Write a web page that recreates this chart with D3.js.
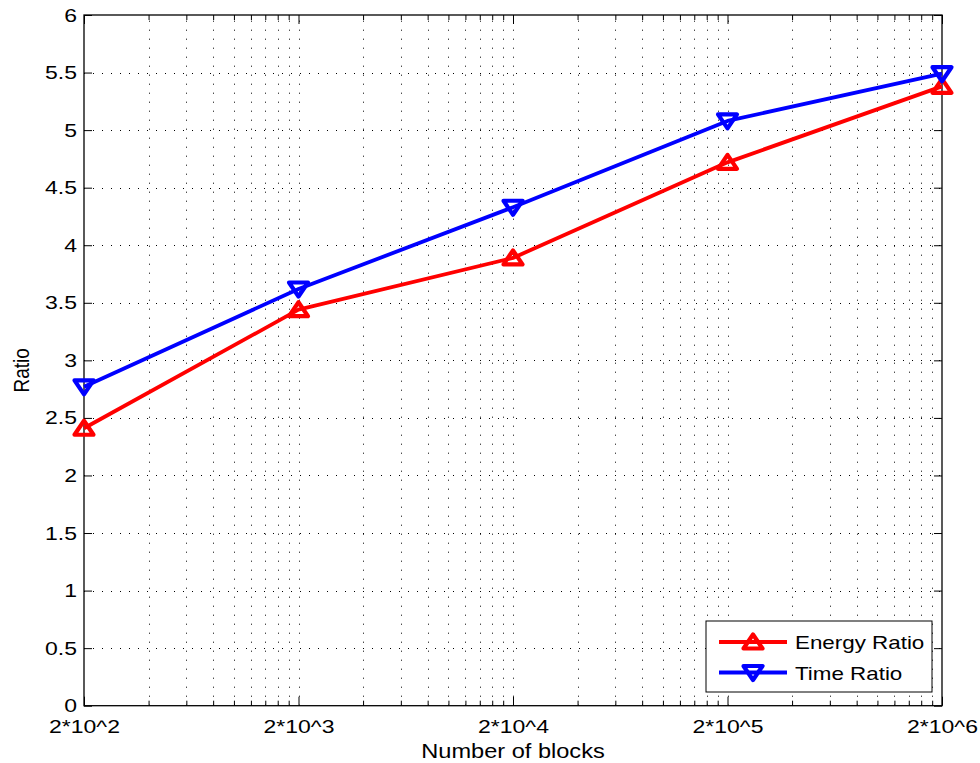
<!DOCTYPE html>
<html>
<head>
<meta charset="utf-8">
<script src="https://cdn.jsdelivr.net/npm/d3@7"></script>
<style>
  body { margin: 0; background: #fff; }
  svg { display: block; font-family: "Liberation Sans", Arial, Helvetica, sans-serif; }
  .axis path, .axis line { stroke: #000; }
  .axis text { fill: #000; font-size: 19px; }
</style>
</head>
<body>
<svg id="chart" width="980" height="763"></svg>
<script>
// Number of blocks (x) and the two measured ratios
const blocks = [2e2, 2e3, 2e4, 2e5, 2e6];
const blockLabels = ["2*10^2", "2*10^3", "2*10^4", "2*10^5", "2*10^6"];
const energyRatio = [2.41, 3.44, 3.89, 4.72, 5.38];
const timeRatio = [2.77, 3.62, 4.33, 5.08, 5.49];
const yTicks = [0, 0.5, 1, 1.5, 2, 2.5, 3, 3.5, 4, 4.5, 5, 5.5, 6];
const seriesNames = ["Energy Ratio", "Time Ratio"];
const seriesColors = ["#ff0000", "#0000ff"];

const svg = d3.select("#chart");
const plotL = 84, plotR = 942, plotT = 15, plotB = 705.7;
const stretch = 1.21;   // wide lettering

const x = d3.scaleLog().domain([2e2, 2e6]).range([plotL, plotR]);
const y = d3.scaleLinear().domain([0, 6]).range([plotB, plotT]);

// minor positions: 2*10^n * k, k = 2..9
const minors = [];
blocks.slice(0, -1).forEach(b => { for (let k = 2; k <= 9; k++) minors.push(b * k); });

// dotted grid
const grid = svg.append("g").attr("stroke", "#000").attr("stroke-width", 1)
  .attr("stroke-dasharray", "1,8").attr("fill", "none");
grid.selectAll("line.v").data(minors.concat(blocks.slice(1, -1))).join("line")
  .attr("x1", d => Math.round(x(d)) + 0.5).attr("x2", d => Math.round(x(d)) + 0.5)
  .attr("y1", plotB).attr("y2", plotT);
grid.selectAll("line.h").data(yTicks.slice(1, -1)).join("line")
  .attr("y1", d => Math.round(y(d)) + 0.5).attr("y2", d => Math.round(y(d)) + 0.5)
  .attr("x1", plotL).attr("x2", plotR);

// axes with inward ticks
svg.append("g").attr("class", "axis").attr("transform", `translate(0,${plotB})`)
  .call(d3.axisBottom(x).tickValues(blocks).tickFormat((d, i) => blockLabels[i])
    .tickSizeInner(-9).tickSizeOuter(0).tickPadding(14))
  .call(g => g.select(".domain").remove())
  .call(g => g.selectAll("text").attr("transform", `scale(${stretch},1)`));
svg.append("g").attr("class", "axis").attr("transform", `translate(0,${plotB})`)
  .call(d3.axisBottom(x).tickValues(minors).tickFormat("").tickSizeInner(-5).tickSizeOuter(0))
  .call(g => g.select(".domain").remove());
svg.append("g").attr("class", "axis").attr("transform", `translate(0,${plotT})`)
  .call(d3.axisTop(x).tickValues(blocks).tickFormat("").tickSizeInner(-9).tickSizeOuter(0))
  .call(g => g.select(".domain").remove());
svg.append("g").attr("class", "axis").attr("transform", `translate(0,${plotT})`)
  .call(d3.axisTop(x).tickValues(minors).tickFormat("").tickSizeInner(-5).tickSizeOuter(0))
  .call(g => g.select(".domain").remove());
svg.append("g").attr("class", "axis").attr("transform", `translate(${plotL},0)`)
  .call(d3.axisLeft(y).tickValues(yTicks).tickFormat(d3.format("~g"))
    .tickSizeInner(-8).tickSizeOuter(0).tickPadding(7))
  .call(g => g.select(".domain").remove())
  .call(g => g.selectAll("text").attr("x", -7 / stretch).attr("transform", `scale(${stretch},1)`));
svg.append("g").attr("class", "axis").attr("transform", `translate(${plotR},0)`)
  .call(d3.axisRight(y).tickValues(yTicks).tickFormat("").tickSizeInner(-8).tickSizeOuter(0))
  .call(g => g.select(".domain").remove());

// frame
svg.append("rect").attr("x", plotL).attr("y", plotT)
  .attr("width", plotR - plotL).attr("height", plotB - plotT)
  .attr("fill", "none").attr("stroke", "#000").attr("stroke-width", 1.3);

// axis titles
svg.append("text").attr("transform", `translate(${(plotL + plotR) / 2},758) scale(${stretch},1)`)
  .attr("text-anchor", "middle").attr("font-size", 19.5).text("Number of blocks");
svg.append("text").attr("transform", `translate(29,${(plotT + plotB) / 2 + 10}) rotate(-90) scale(1,${stretch})`)
  .attr("text-anchor", "middle").attr("font-size", 19).text("Ratio");

// triangle markers (up for energy, down for time)
const triUp = "M0,-7.5L9.5,6.5L-9.5,6.5Z";
const triDown = "M0,7.5L9.5,-6.5L-9.5,-6.5Z";
const markers = [triUp, triDown];

const line = d3.line().x(d => x(d[0])).y(d => y(d[1]));
[energyRatio, timeRatio].forEach((vals, si) => {
  const pts = blocks.map((b, i) => [b, vals[i]]);
  svg.append("path").datum(pts).attr("d", line)
    .attr("fill", "none").attr("stroke", seriesColors[si]).attr("stroke-width", 3.8)
    .attr("stroke-linejoin", "round");
  svg.append("g").selectAll("path").data(pts).join("path")
    .attr("transform", d => `translate(${x(d[0])},${y(d[1])})`)
    .attr("d", markers[si]).attr("fill", "none")
    .attr("stroke", seriesColors[si]).attr("stroke-width", 4.2)
    .attr("stroke-linejoin", "round");
});

// legend
const lg = svg.append("g");
lg.append("rect").attr("x", 706).attr("y", 621).attr("width", 226).attr("height", 71)
  .attr("fill", "#fff").attr("stroke", "#000").attr("stroke-width", 1);
seriesNames.forEach((name, i) => {
  const yy = 642 + i * 30.5;
  lg.append("line").attr("x1", 719).attr("x2", 787).attr("y1", yy).attr("y2", yy)
    .attr("stroke", seriesColors[i]).attr("stroke-width", 3.8);
  lg.append("path").attr("transform", `translate(753,${yy})`).attr("d", markers[i])
    .attr("fill", "none").attr("stroke", seriesColors[i]).attr("stroke-width", 4.2)
    .attr("stroke-linejoin", "round");
  lg.append("text").attr("transform", `translate(795,${yy + 7}) scale(${stretch},1)`)
    .attr("font-size", 18.5).text(name);
});
</script>
</body>
</html>
